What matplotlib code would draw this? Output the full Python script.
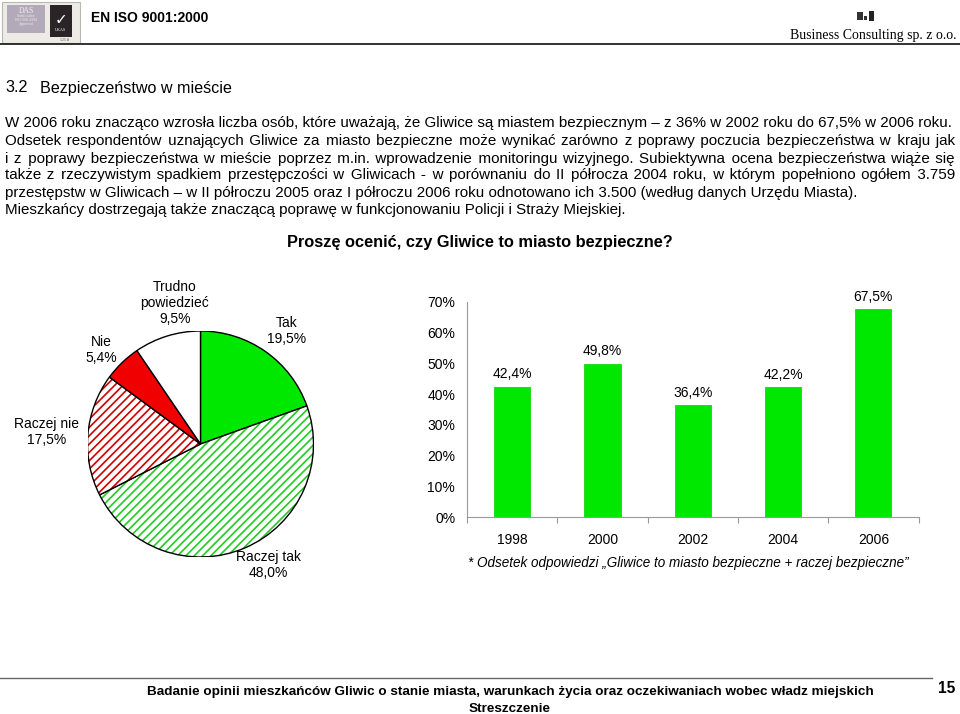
import matplotlib
matplotlib.use("Agg")
import matplotlib.pyplot as plt
from matplotlib.patches import Rectangle, Wedge
import numpy as np

plt.rcParams['font.family'] = ['Liberation Sans', 'DejaVu Sans']
plt.rcParams['hatch.linewidth'] = 1.2

W, H = 960, 714

# ---------------- data ----------------
pie_labels = ["Tak", "Raczej tak", "Raczej nie", "Nie", "Trudno\npowiedzieć"]
pie_values = [19.5, 48.0, 17.5, 5.4, 9.5]
pie_value_text = ["19,5%", "48,0%", "17,5%", "5,4%", "9,5%"]

bar_years = ["1998", "2000", "2002", "2004", "2006"]
bar_values = [42.4, 49.8, 36.4, 42.2, 67.5]
bar_value_text = ["42,4%", "49,8%", "36,4%", "42,2%", "67,5%"]
y_ticks = [0, 10, 20, 30, 40, 50, 60, 70]
y_tick_labels = ["0%", "10%", "20%", "30%", "40%", "50%", "60%", "70%"]

para_lines = [
    "W 2006 roku znacząco wzrosła liczba osób, które uważają, że Gliwice są miastem bezpiecznym – z 36% w 2002 roku do 67,5% w 2006 roku.",
    "Odsetek respondentów uznających Gliwice za miasto bezpieczne może wynikać zarówno z poprawy poczucia bezpieczeństwa w kraju  jak",
    "i z poprawy bezpieczeństwa w mieście poprzez m.in. wprowadzenie monitoringu wizyjnego. Subiektywna ocena bezpieczeństwa wiąże się",
    "także z rzeczywistym spadkiem przestępczości w Gliwicach - w porównaniu do II półrocza 2004 roku, w którym popełniono ogółem 3.759",
    "przestępstw w Gliwicach – w II półroczu 2005 oraz I półroczu 2006 roku odnotowano ich 3.500 (według danych Urzędu Miasta).",
    "Mieszkańcy dostrzegają także znaczącą poprawę w funkcjonowaniu Policji i Straży Miejskiej.",
]
justified = [False, True, True, True, False, False]

GREEN = "#00e800"
RED = "#f00000"

fig = plt.figure(figsize=(W / 100, H / 100), dpi=100)
fig.patch.set_facecolor("white")
renderer = fig.canvas.get_renderer()


def fx(x):
    return x / W


def fy(y):
    return 1 - y / H


def text_px(x, y, s, **kw):
    return fig.text(fx(x), fy(y), s, **kw)


def width_px(s, fs, **kw):
    t = fig.text(0, 0, s, fontsize=fs, **kw)
    w = t.get_window_extent(renderer).width
    t.remove()
    return w


def fit_fs(s, target, **kw):
    return 10 * target / width_px(s, 10, **kw)


# ---------------- header ----------------
fig.add_artist(Rectangle((fx(2), fy(43)), fx(78), 41 / H, transform=fig.transFigure,
                         facecolor="#ecebe6", edgecolor="#b8b8b0", lw=0.8))
fig.add_artist(Rectangle((fx(7), fy(33)), fx(38), 28 / H, transform=fig.transFigure,
                         facecolor="#b3aab9", edgecolor="none"))
text_px(26, 11, "DAS", fontsize=5.5, ha="center", va="center", color="#f4f0f4", family="Liberation Serif")
text_px(26, 20, "Certification\nISO 9001:1994\nApproved", fontsize=2.6, ha="center", va="center",
        color="#f4f0f4", family="Liberation Serif", linespacing=1.1)
fig.add_artist(Rectangle((fx(50), fy(37)), fx(22), 32 / H, transform=fig.transFigure,
                         facecolor="#2a2426", edgecolor="none"))
text_px(61, 20, "✓", fontsize=11, ha="center", va="center", color="white", family="DejaVu Sans")
text_px(61, 30, "UKAS", fontsize=3, ha="center", va="center", color="white", family="Liberation Serif")
text_px(65, 40, "125 A", fontsize=2.5, ha="center", va="center", color="#666666")

text_px(91, 22.5, "EN ISO 9001:2000", fontsize=fit_fs("EN ISO 9001:2000", 117, weight="bold"),
        weight="bold", ha="left", va="baseline")
# small company logo
fig.add_artist(Rectangle((fx(857), fy(20)), fx(6), 8 / H, transform=fig.transFigure,
                         facecolor="#333333", edgecolor="none"))
fig.add_artist(Rectangle((fx(864), fy(20)), fx(3), 4 / H, transform=fig.transFigure,
                         facecolor="#333333", edgecolor="none"))
fig.add_artist(Rectangle((fx(869), fy(21)), fx(5), 10 / H, transform=fig.transFigure,
                         facecolor="#222222", edgecolor="none"))
bc = "Business Consulting sp. z o.o."
text_px(957, 39, bc, fontsize=fit_fs(bc, 166, family="Liberation Serif"),
        family="Liberation Serif", ha="right", va="baseline")
fig.add_artist(plt.Line2D([0, 1], [fy(44), fy(44)], transform=fig.transFigure, color="#222222", lw=1.3))

# ---------------- section heading ----------------
hfs = fit_fs("Bezpieczeństwo w mieście", 192)
text_px(5, 92.5, "3.2", fontsize=hfs, ha="left", va="baseline")
text_px(40, 92.5, "Bezpieczeństwo w mieście", fontsize=hfs, ha="left", va="baseline")

# ---------------- paragraph ----------------
bfs = fit_fs(para_lines[0], 947)
x0, x1 = 5, 955
HAIR = "\u200a"


def justify(line, target):
    """Widen the spaces with hair spaces so that the line spans `target` px."""
    words = line.split()
    natural = width_px(" ".join(words), bfs)
    extra = target - natural
    if extra <= 0:
        return " ".join(words)
    n = len(words) - 1
    s = words[0]
    for i in range(1, len(words)):
        goal = extra * i / n
        best, best_err = None, None
        for k in range(0, 12):
            cand = s + " " + HAIR * k + words[i]
            cur = width_px(cand, bfs) - width_px(" ".join(words[:i + 1]), bfs)
            err = abs(cur - goal)
            if best_err is None or err < best_err:
                best, best_err = cand, err
        s = best
    return s


y_lines = [127.5, 145, 162.5, 179.5, 196.5, 213.5]   # baselines
for line, just, yl in zip(para_lines, justified, y_lines):
    s = justify(line, x1 - x0) if just else line
    text_px(x0, yl, s, fontsize=bfs, ha="left", va="baseline")

# ---------------- chart title ----------------
title = "Proszę ocenić, czy Gliwice to miasto bezpieczne?"
text_px(480, 247, title, fontsize=fit_fs(title, 386, weight="bold"), weight="bold",
        ha="center", va="baseline")

# ---------------- pie ----------------
cx, cy, r = 200.5, 444, 113
pax = fig.add_axes([fx(cx - r), fy(cy + r), 2 * r / W, 2 * r / H])
pax.set_xlim(-1, 1)
pax.set_ylim(-1, 1)
pax.axis("off")
styles = [
    dict(face=GREEN, hatch=None),
    dict(face="white", hatch="////", hc="#22cc22"),
    dict(face="white", hatch="////", hc="#d00000"),
    dict(face=RED, hatch=None),
    dict(face="white", hatch=None),
]
total = sum(pie_values)
ang = 90.0
for v, st in zip(pie_values, styles):
    span = 360.0 * v / total
    t1, t2 = ang - span, ang
    if st["hatch"]:
        pax.add_patch(Wedge((0, 0), 1, t1, t2, facecolor="white", edgecolor=st["hc"],
                            hatch=st["hatch"], lw=0))
    else:
        pax.add_patch(Wedge((0, 0), 1, t1, t2, facecolor=st["face"], edgecolor="none"))
    pax.add_patch(Wedge((0, 0), 1, t1, t2, facecolor="none", edgecolor="black", lw=1.0))
    ang = t1

pie_label_pos = [(287, 331), (268, 565), (47, 432), (101, 350), (175, 303)]
pfs = 10
for lab, vt, (lx, ly) in zip(pie_labels, pie_value_text, pie_label_pos):
    text_px(lx, ly, lab + "\n" + vt, fontsize=pfs, ha="center", va="center", linespacing=1.15)

# ---------------- bar chart ----------------
bl, br, bb, bt = 467, 918.5, 517.3, 301.7
bax = fig.add_axes([fx(bl), fy(bb), (br - bl) / W, (bb - bt) / H])
xpos = np.arange(len(bar_years))
bars = bax.bar(xpos, bar_values, width=0.4, color=GREEN, edgecolor="#00d000", lw=0.5)
bax.set_xlim(-0.5, len(bar_years) - 0.5)
bax.set_ylim(0, 70)
bax.set_yticks(y_ticks)
bax.set_yticklabels(y_tick_labels, fontsize=10)
bax.tick_params(axis="y", length=0, pad=8.5)
bax.set_xticks(np.arange(len(bar_years) + 1) - 0.5)
bax.set_xticklabels([])
bax.set_xticks(xpos, minor=True)
bax.set_xticklabels(bar_years, minor=True, fontsize=10)
bax.tick_params(axis="x", which="major", length=4, color="#999999", direction="out")
bax.tick_params(axis="x", which="minor", length=0, pad=11)
for s in ["top", "right"]:
    bax.spines[s].set_visible(False)
for s in ["left", "bottom"]:
    bax.spines[s].set_color("#999999")
    bax.spines[s].set_linewidth(0.8)
for rect, vt in zip(bars, bar_value_text):
    bax.annotate(vt, (rect.get_x() + rect.get_width() / 2, rect.get_height()),
                 xytext=(0, 4), textcoords="offset points", ha="center", va="bottom",
                 fontsize=10, annotation_clip=False)

foot = "* Odsetek odpowiedzi \u201eGliwice to miasto bezpieczne + raczej bezpieczne\u201d"
text_px(468, 567, foot, fontsize=fit_fs(foot, 444, style="italic"), style="italic",
        ha="left", va="baseline")

# ---------------- footer ----------------
fig.add_artist(plt.Line2D([0, fx(932)], [fy(678), fy(678)], transform=fig.transFigure,
                          color="#666666", lw=1.0))
ft = "Badanie opinii mieszkańców Gliwic o stanie miasta, warunkach życia oraz oczekiwaniach wobec władz miejskich"
ffs = fit_fs(ft, 720, weight="bold")
text_px(510, 695, ft, fontsize=ffs, weight="bold", ha="center", va="baseline")
text_px(510, 712, "Streszczenie", fontsize=ffs, weight="bold", ha="center", va="baseline")
text_px(947, 693, "15", fontsize=ffs + 1.5, weight="bold", ha="center", va="baseline")

fig.savefig("out.png", dpi=100, facecolor="white")
